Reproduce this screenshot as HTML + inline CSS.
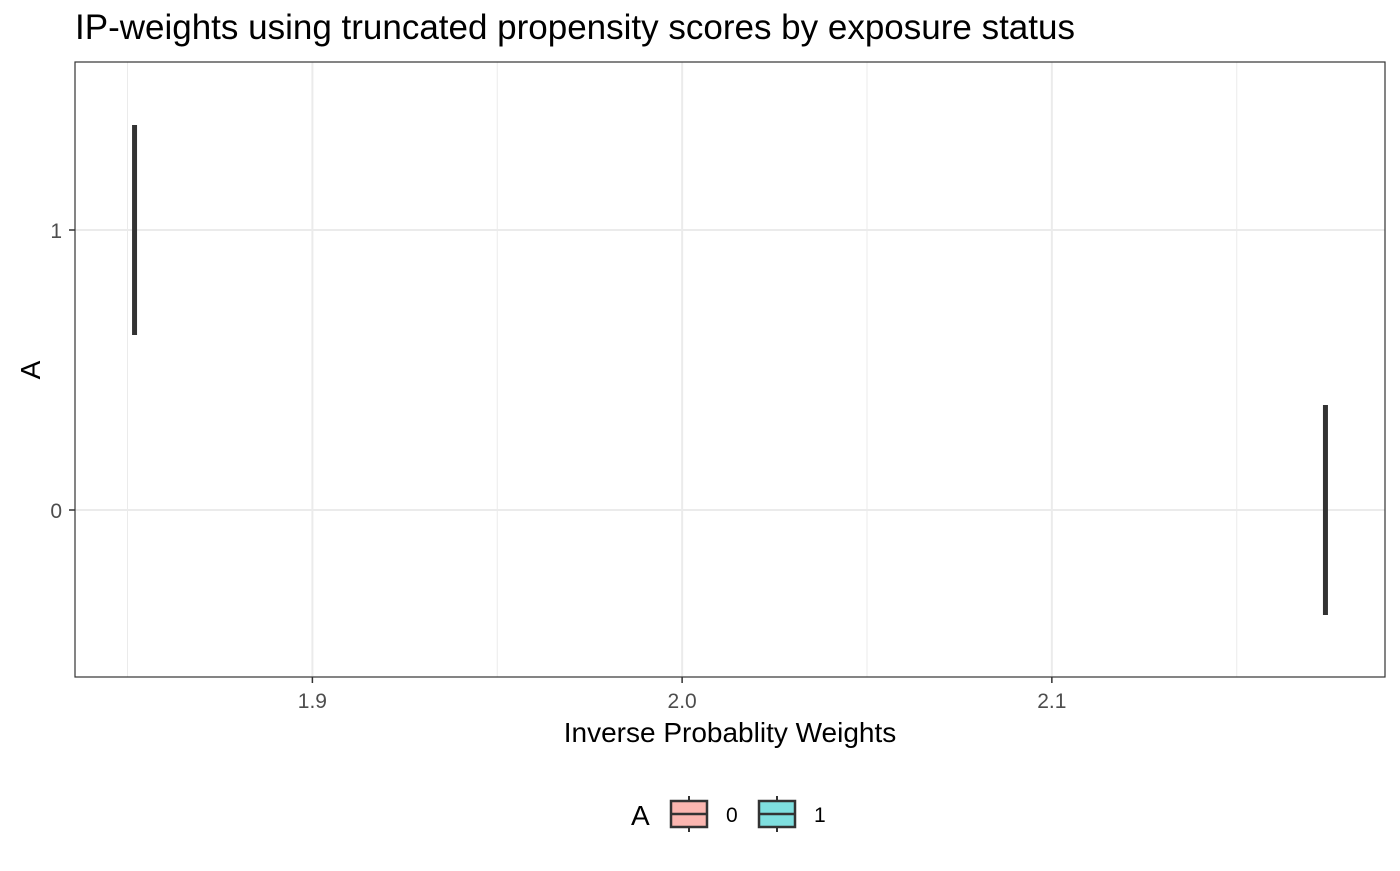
<!DOCTYPE html>
<html><head><meta charset="utf-8"><style>
body{margin:0;background:#fff;font-family:"Liberation Sans",Arial,sans-serif}
</style></head><body>
<svg id="chart" width="1400" height="866" xmlns="http://www.w3.org/2000/svg">
<text x="75" y="39" font-size="35" fill="#000">IP-weights using truncated propensity scores by exposure status</text>
<g id="grid"></g>
<g id="marks"></g>
<rect x="75" y="62" width="1310" height="615" fill="none" stroke="#333" stroke-width="1.2"/>
<g id="axes"></g>
<text x="730" y="742" font-size="28" text-anchor="middle" fill="#000">Inverse Probablity Weights</text>
<text transform="translate(40,370) rotate(-90)" font-size="28" text-anchor="middle" fill="#000">A</text>
<g>
<text x="631" y="825" font-size="28" fill="#000">A</text>
<g>
<line x1="689" y1="796" x2="689" y2="832" stroke="#333" stroke-width="2"/>
<rect x="671" y="801" width="36" height="26" fill="#fbb6b0" stroke="#333" stroke-width="2.5"/>
<line x1="671" y1="814" x2="707" y2="814" stroke="#333" stroke-width="2.5"/>
<text x="726" y="822" font-size="21" fill="#000">0</text></g>
<g>
<line x1="777" y1="796" x2="777" y2="832" stroke="#333" stroke-width="2"/>
<rect x="759" y="801" width="36" height="26" fill="#7fdfdf" stroke="#333" stroke-width="2.5"/>
<line x1="759" y1="814" x2="795" y2="814" stroke="#333" stroke-width="2.5"/>
<text x="814" y="822" font-size="21" fill="#000">1</text></g>
</g>
</svg>
<script>
const categories = ["0","1"];
const weightValues = [2.1740, 1.8519];
const xTicks = [1.9, 2.0, 2.1];
const xTickLabels = ["1.9","2.0","2.1"];
const xMinor = [1.85, 1.95, 2.05, 2.15];
const yTicks = [0, 1];

const NS="http://www.w3.org/2000/svg";
const L=75,R=1385,T=62,B=677;
const xmin=Math.min(...weightValues), xmax=Math.max(...weightValues);
const pad=(xmax-xmin)*0.05;
const x0=xmin-pad, x1=xmax+pad;
const sx=v=>L+(v-x0)/(x1-x0)*(R-L);
const sy=v=>510-(v-0)*280;
function mk(tag,attrs,parent){const e=document.createElementNS(NS,tag);for(const k in attrs)e.setAttribute(k,attrs[k]);parent.appendChild(e);return e;}
const grid=document.getElementById('grid'),marks=document.getElementById('marks'),axes=document.getElementById('axes');
xMinor.forEach(v=>{const e=mk('line',{x1:sx(v),x2:sx(v),y1:T,y2:B,stroke:'#ebebeb','stroke-width':1},grid);

});
xTicks.forEach((v,i)=>{const e=mk('line',{x1:sx(v),x2:sx(v),y1:T,y2:B,stroke:'#ebebeb','stroke-width':2},grid);


const t=mk('line',{x1:sx(v),x2:sx(v),y1:B,y2:B+6,stroke:'#333','stroke-width':1.5},axes);


const l=mk('text',{x:sx(v),y:B+31,'font-size':21,'text-anchor':'middle',fill:'#4d4d4d'},axes);l.textContent=xTickLabels[i];

});
yTicks.forEach(v=>{const e=mk('line',{x1:L,x2:R,y1:sy(v),y2:sy(v),stroke:'#ebebeb','stroke-width':2},grid);


const t=mk('line',{x1:L-6,x2:L,y1:sy(v),y2:sy(v),stroke:'#333','stroke-width':1.5},axes);


const l=mk('text',{x:L-13,y:sy(v)+8,'font-size':21,'text-anchor':'end',fill:'#4d4d4d'},axes);l.textContent=String(v);

});
categories.forEach((c,i)=>{const cy=sy(Number(c));const x=sx(weightValues[i]);
const b=mk('line',{x1:x,x2:x,y1:cy-105,y2:cy+105,stroke:'#333','stroke-width':5},marks);

});
</script>
</body></html>
